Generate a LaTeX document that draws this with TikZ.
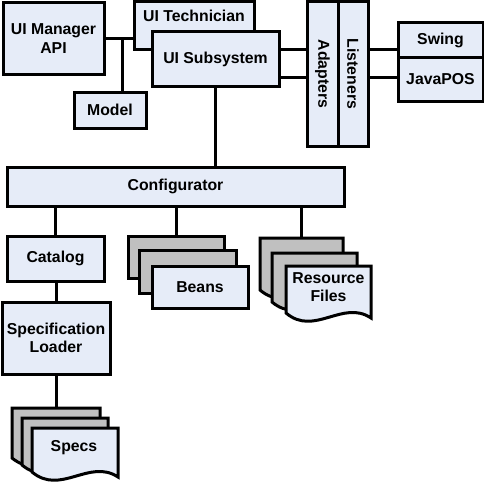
\documentclass[tikz,border=0pt]{standalone}
\usepackage{fontspec}
\setmainfont{Liberation Sans}
\definecolor{boxfill}{RGB}{230,236,248}
\definecolor{sheetgray}{RGB}{192,192,192}
\newcommand\wdoc[5]{%
  \pgfmathsetmacro\wxa{#1+(#2-#1)/3}%
  \pgfmathsetmacro\wxb{#1+2*(#2-#1)/3}%
  \pgfmathsetmacro\wyr{#4+5}%
  \pgfmathsetmacro\wya{#4+24}%
  \pgfmathsetmacro\wyb{#4-14}%
  \filldraw[docline,fill=#5] (#1,#3) -- (#2,#3) -- (#2,\wyr) .. controls (\wxb,\wyb) and (\wxa,\wya) .. (#1,#4) -- cycle;}
\begin{document}
\begin{tikzpicture}[x=1pt,y=-1pt,
  txt/.style={font=\bfseries\fontsize{15.8}{18.3}\selectfont,align=center},
  box/.style={txt,draw=black,line width=3pt,fill=boxfill,inner sep=0pt},
  lbl/.style={txt,inner sep=0pt},
  conn/.style={draw=black,line width=3pt},
  docline/.style={draw=black,line width=3pt,line join=miter}]
\useasboundingbox (0,0) rectangle (484,487);

% top area
\node[box,minimum width=101pt,minimum height=71pt] (uimgr) at (53.5,38.5) {UI Manager\\API};
\node[box,minimum width=120pt,minimum height=48pt] (uitech) at (194,26) {};
\node[lbl] (uitechlbl) at (194,16) {UI Technician};
\node[box,minimum width=127pt,minimum height=54pt] (uisub) at (215.5,59) {UI Subsystem};
\node[box,minimum width=72pt,minimum height=36pt] (model) at (110,110) {Model};
\node[box,minimum width=31pt,minimum height=144pt] (adapters) at (322.5,74) {};
\node[lbl,rotate=-90] (adapterslbl) at (322.5,74) {Adapters};
\node[box,minimum width=30pt,minimum height=144pt] (listeners) at (353,74) {};
\node[lbl,rotate=-90] (listenerslbl) at (353,74) {Listeners};
\node[box,minimum width=85pt,minimum height=35pt] (swing) at (440.5,40.5) {Swing};
\node[box,minimum width=85pt,minimum height=43pt] (javapos) at (440.5,79.5) {JavaPOS};

% configurator row
\node[box,minimum width=337pt,minimum height=39pt] (config) at (175.5,186.5) {Configurator};
\node[box,minimum width=97pt,minimum height=45pt] (catalog) at (55.5,258.5) {Catalog};
\node[box,minimum width=108pt,minimum height=72pt] (specloader) at (56,338) {Specification\\Loader};

% Beans stack
\filldraw[docline,fill=sheetgray] (128,236) rectangle (224,278);
\filldraw[docline,fill=sheetgray] (139,250) rectangle (236,293);
\filldraw[docline,fill=boxfill] (152,266) rectangle (248,308);
\coordinate (beanstop) at (176,236);
\node[lbl] (beans) at (200,287) {Beans};

% Resource Files stack
\wdoc{260}{343}{238}{290}{sheetgray}
\wdoc{272}{357}{253}{302}{sheetgray}
\wdoc{286}{371}{266}{313}{boxfill}
\coordinate (restop) at (301.5,238);
\node[lbl] (resfiles) at (328.5,287) {Resource\\Files};

% Specs stack
\wdoc{12}{100}{408}{458}{sheetgray}
\wdoc{22}{108}{418}{465}{sheetgray}
\wdoc{32}{118}{428}{472}{boxfill}
\coordinate (specstop) at (56,408);
\node[lbl] (specs) at (74,448) {Specs};

% connectors
\coordinate (ya) at (0,50);
\coordinate (yb) at (0,77);
\draw[conn] (uimgr.east) -- (uimgr.east -| uitech.west);
\coordinate (jmodel) at (122,38.5);
\draw[conn] (jmodel) -- (jmodel |- model.north);
\draw[conn] (uisub.east |- ya) -- (adapters.west |- ya);
\draw[conn] (uisub.east |- yb) -- (adapters.west |- yb);
\draw[conn] (listeners.east |- ya) -- (swing.west |- ya);
\draw[conn] (listeners.east |- yb) -- (javapos.west |- yb);
\draw[conn] (uisub.south) -- (uisub.south |- config.north);
\draw[conn] (catalog.north) -- (catalog.north |- config.south);
\draw[conn] (beanstop) -- (beanstop |- config.south);
\draw[conn] (restop) -- (restop |- config.south);
\draw[conn] (catalog.south) -- (catalog.south -| specloader.north) -- (specloader.north);
\draw[conn] (specloader.south) -- (specstop);
\end{tikzpicture}
\end{document}
